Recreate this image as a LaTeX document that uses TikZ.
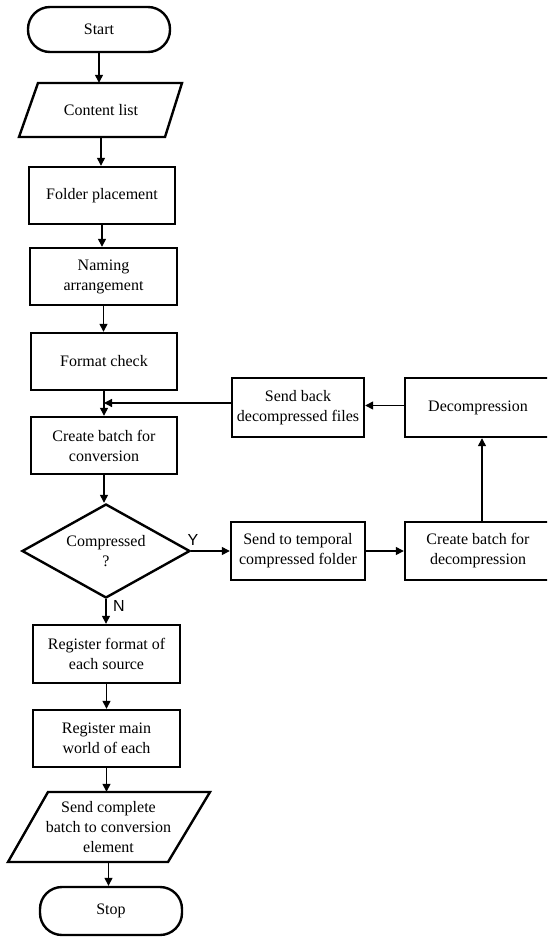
\documentclass[tikz,border=0pt]{standalone}
\usepackage{fontspec}
\setmainfont{Liberation Serif}
\newfontfamily\ynfont{Liberation Sans}
\usetikzlibrary{shapes.geometric,arrows.meta}
\tikzset{%
    txt/.style={align=center,inner sep=0pt,font=\fontsize{16}{20}\selectfont},
    blk/.style={txt,draw,line width=2.4pt},
    term/.style={blk,rounded corners=22pt,minimum width=142pt},
    dec/.style={blk,diamond,aspect=1.8},
    lbl/.style={inner sep=0pt,font=\ynfont\fontsize{16}{16}\selectfont},
    arr/.style={draw,line width=1.3pt,-{Triangle[length=8pt,width=8pt]}}
}

\begin{document}
\begin{tikzpicture}[x=1pt,y=-1pt]
        \useasboundingbox (0,0) rectangle (547,937);
        \clip (0,0) rectangle (547,937);
        \node[term,minimum height=45pt] (start) at (99,29.5){Start};
        \node[txt,minimum height=54pt] (cl) at (101,110){Content list};
        \draw[line width=2.4pt] (38,83) -- (182,83) -- (165,137) -- (19,137) -- cycle;
        \node[blk,minimum width=146pt,minimum height=57pt] (fp) at (102,195.5){Folder placement};
        \node[blk,minimum width=147pt,minimum height=57pt] (na) at (103.5,276.5){Naming\\arrangement};
        \node[blk,minimum width=146pt,minimum height=57pt] (fc) at (104,361.5){Format check};
        \node[blk,minimum width=146pt,minimum height=57pt] (cb) at (104,445.5){Create batch for\\conversion};
        \node[dec,minimum width=168pt,minimum height=94pt] (cmp) at (106,551){Compressed\\?};
        \node[blk,minimum width=147pt,minimum height=58pt] (rf) at (106.5,654){Register format of\\each source};
        \node[blk,minimum width=147pt,minimum height=57pt] (rm) at (106.5,738.5){Register main\\world of each};
        \node[txt,minimum height=70pt] (sc) at (108.5,827){Send complete\\batch to conversion\\element};
        \draw[line width=2.4pt] (48,792) -- (210,792) -- (168,862) -- (8,862) -- cycle;
        \node[term,minimum height=48pt] (stop) at (111,911){Stop};
        \node[blk,minimum width=132pt,minimum height=59pt] (sb) at (298,407.5){Send back\\decompressed files};
        \node[blk,minimum width=146pt,minimum height=59pt] (dc) at (478,407.5){Decompression};
        \node[blk,minimum width=134pt,minimum height=58pt] (st) at (298,551){Send to temporal\\compressed folder};
        \node[blk,minimum width=146pt,minimum height=58pt] (cd) at (478,551){Create batch for\\decompression};
        \node[lbl] (y) at (193,540){Y};
        \node[lbl] (n) at (119,606){N};
        \path[every edge/.style={arr}]
            (start) edge (start |- cl.north)
            (cl) edge (cl |- fp.north)
            (fp) edge (fp |- na.north)
            (na) edge (na |- fc.north)
            (fc) edge (fc |- cb.north)
            (cb) edge (cb |- cmp.north)
            (cmp) edge (cmp |- rf.north)
            (rf) edge (rf |- rm.north)
            (rm) edge (rm |- sc.north)
            (sc) edge (sc |- stop.north)
            (cmp.east) edge (st.west)
            (st) edge (cd)
            ([xshift=4pt]cd.north) edge ([xshift=4pt]dc.south)
            ([yshift=2pt]dc.west) edge ([yshift=2pt]sb.east)
            ([yshift=4.5pt]sb.west) edge ([yshift=4.5pt]fc.south |- sb.west);
    \end{tikzpicture}
\end{document}
